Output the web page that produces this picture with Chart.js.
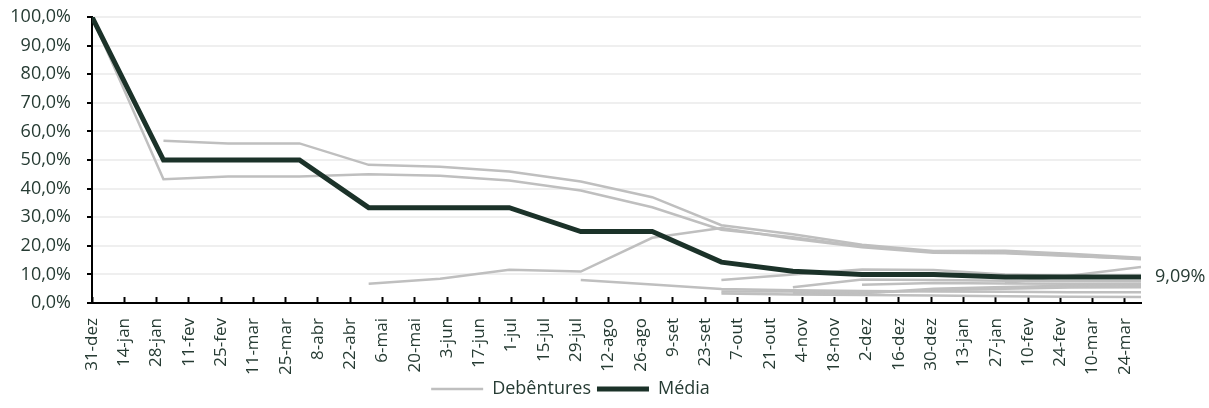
<!DOCTYPE html>
<html>
<head>
<meta charset="utf-8">
<script src="https://cdn.jsdelivr.net/npm/chart.js@4/dist/chart.umd.min.js"></script>
<style>
  body { margin: 0; background: #fff; }
  #wrap { width: 1209px; height: 408px; position: relative; }
</style>
</head>
<body>
<div id="wrap"><canvas id="chart"></canvas></div>
<script>
"use strict";

// monthly points (end of month)
var dates = ['2021-12-31', '2022-01-31', '2022-02-28', '2022-03-31', '2022-04-30', '2022-05-31',
             '2022-06-30', '2022-07-31', '2022-08-31', '2022-09-30', '2022-10-31', '2022-11-30',
             '2022-12-31', '2023-01-31', '2023-02-28', '2023-03-31'];
var monthNames = ['jan', 'fev', 'mar', 'abr', 'mai', 'jun', 'jul', 'ago', 'set', 'out', 'nov', 'dez'];

// gray lines, one per debenture (% of total)
var deb1  = [100, 43.3, 44.2, 44.2, 45.0, 44.5, 42.8, 39.3, 33.5, 25.6, 23.0, 19.8, 17.8, 17.6, 16.6, 15.3];
var deb2  = [null, 56.7, 55.8, 55.8, 48.3, 47.6, 46.0, 42.5, 37.0, 27.2, 24.0, 20.4, 18.2, 18.3, 17.2, 15.8];
var deb3  = [null, null, null, null, 6.7, 8.5, 11.6, 11.0, 22.8, 26.2, 22.5, 19.5, 17.6, 17.4, 16.4, 15.5];
var deb4  = [null, null, null, null, null, null, null, 8.0, 6.5, 4.9, 4.5, 4.2, 4.0, 3.9, 3.8, 3.8];
var deb5  = [null, null, null, null, null, null, null, null, null, 8.0, 10.0, 11.7, 11.5, 10.0, 9.4, 9.0];
var deb6  = [null, null, null, null, null, null, null, null, null, 3.3, 3.0, 2.8, 2.6, 2.4, 2.2, 2.1];
var deb7  = [null, null, null, null, null, null, null, null, null, 4.0, 4.0, 3.6, 4.5, 5.0, 5.4, 5.5];
var deb8  = [null, null, null, null, null, null, null, null, null, null, 5.5, 8.2, 8.0, 7.8, 7.7, 7.6];
var deb9  = [null, null, null, null, null, null, null, null, null, null, 3.5, 3.4, 5.0, 5.6, 6.0, 6.1];
var deb10 = [null, null, null, null, null, null, null, null, null, null, null, 6.4, 7.0, 6.8, 6.7, 6.7];
var deb11 = [null, null, null, null, null, null, null, null, null, null, null, null, null, 7.0, 9.5, 12.6];
var debentures = [deb1, deb2, deb3, deb4, deb5, deb6, deb7, deb8, deb9, deb10, deb11];

var media = [100, 50, 50, 50, 33.33, 33.33, 33.33, 25, 25, 14.29, 11.11, 10, 10, 9.09, 9.09, 9.09];

var textColor = '#263b33';
var grayColor = '#bfbfbf';
var mediaColor = '#1b3229';

var t0 = Date.parse(dates[0]);
function dayOf(d){
    return Math.round((Date.parse(d) - t0) / 86400000);
}
function dayLabel(v){
    var d = new Date(t0 + v * 86400000);
    return d.getUTCDate() + '-' + monthNames[d.getUTCMonth()];
}
function points(vals){
    return dates.map(function(d, i){ return {x: dayOf(d), y: vals[i]}; });
}

var lastDay = dayOf(dates[dates.length - 1]);
var tickDays = [];
for (var t = 0; t <= lastDay; t += 14) tickDays.push(t);

var datasets = debentures.map(function(vals, i){
    return {
        label: 'Debêntures',
        data: points(vals),
        borderColor: grayColor,
        backgroundColor: grayColor,
        borderWidth: 2.5,
        pointRadius: 0,
        tension: 0,
        order: 1
    };
});
datasets.push({
    label: 'Média',
    data: points(media),
    borderColor: mediaColor,
    backgroundColor: mediaColor,
    borderWidth: 5,
    pointRadius: 0,
    tension: 0,
    order: 0
});

// value at the end of the Média line
var endLabel = {
    id: 'endLabel',
    afterDatasetsDraw: function(chart){
        var meta = chart.getDatasetMeta(chart.data.datasets.length - 1);
        var pt = meta.data[meta.data.length - 1];
        var v = media[media.length - 1];
        var ctx = chart.ctx;
        ctx.save();
        ctx.font = '18px "Open Sans"';
        ctx.fillStyle = textColor;
        ctx.textAlign = 'left';
        ctx.textBaseline = 'middle';
        ctx.fillText(v.toFixed(2).replace('.', ',') + '%', pt.x + 14, pt.y);
        ctx.restore();
    }
};

Chart.defaults.font.family = '"Open Sans", sans-serif';
Chart.defaults.font.size = 18;
Chart.defaults.color = textColor;

new Chart(document.getElementById('chart').getContext('2d'), {
    type: 'line',
    data: { datasets: datasets },
    plugins: [endLabel],
    options: {
        responsive: true,
        maintainAspectRatio: false,
        animation: false,
        layout: { padding: { left: 0, right: 68, top: 0, bottom: 0 } },
        plugins: {
            tooltip: { enabled: false },
            legend: {
                position: 'bottom',
                labels: {
                    usePointStyle: true,
                    pointStyle: 'line',
                    pointStyleWidth: 52,
                    padding: 6,
                    color: textColor,
                    font: { size: 18 },
                    filter: function(item){
                        return item.datasetIndex === 0 || item.text === 'Média';
                    },
                    sort: function(a, b){ return a.datasetIndex - b.datasetIndex; }
                }
            }
        },
        scales: {
            x: {
                type: 'linear',
                min: 0,
                max: lastDay,
                bounds: 'data',
                afterBuildTicks: function(scale){
                    scale.ticks = tickDays.map(function(v){ return {value: v}; });
                },
                afterFit: function(scale){
                    scale.height = 71;
                },
                grid: {
                    drawOnChartArea: false,
                    tickLength: -6,
                    tickWidth: 2,
                    tickColor: '#000'
                },
                border: { color: '#000', width: 2 },
                ticks: {
                    autoSkip: false,
                    minRotation: 90,
                    maxRotation: 90,
                    padding: 21,
                    color: textColor,
                    font: { size: 17 },
                    callback: function(v){ return dayLabel(v); }
                }
            },
            y: {
                min: 0,
                max: 100,
                afterFit: function(scale){
                    scale.width = 92;
                    scale.paddingTop = 17;
                },
                grid: {
                    color: '#efefef',
                    lineWidth: 2,
                    tickLength: 5,
                    tickColor: '#000',
                    tickWidth: 2
                },
                border: { color: '#000', width: 2 },
                ticks: {
                    stepSize: 10,
                    padding: 16,
                    color: textColor,
                    callback: function(v){ return v.toFixed(1).replace('.', ',') + '%'; }
                }
            }
        }
    }
});
</script>
</body>
</html>
